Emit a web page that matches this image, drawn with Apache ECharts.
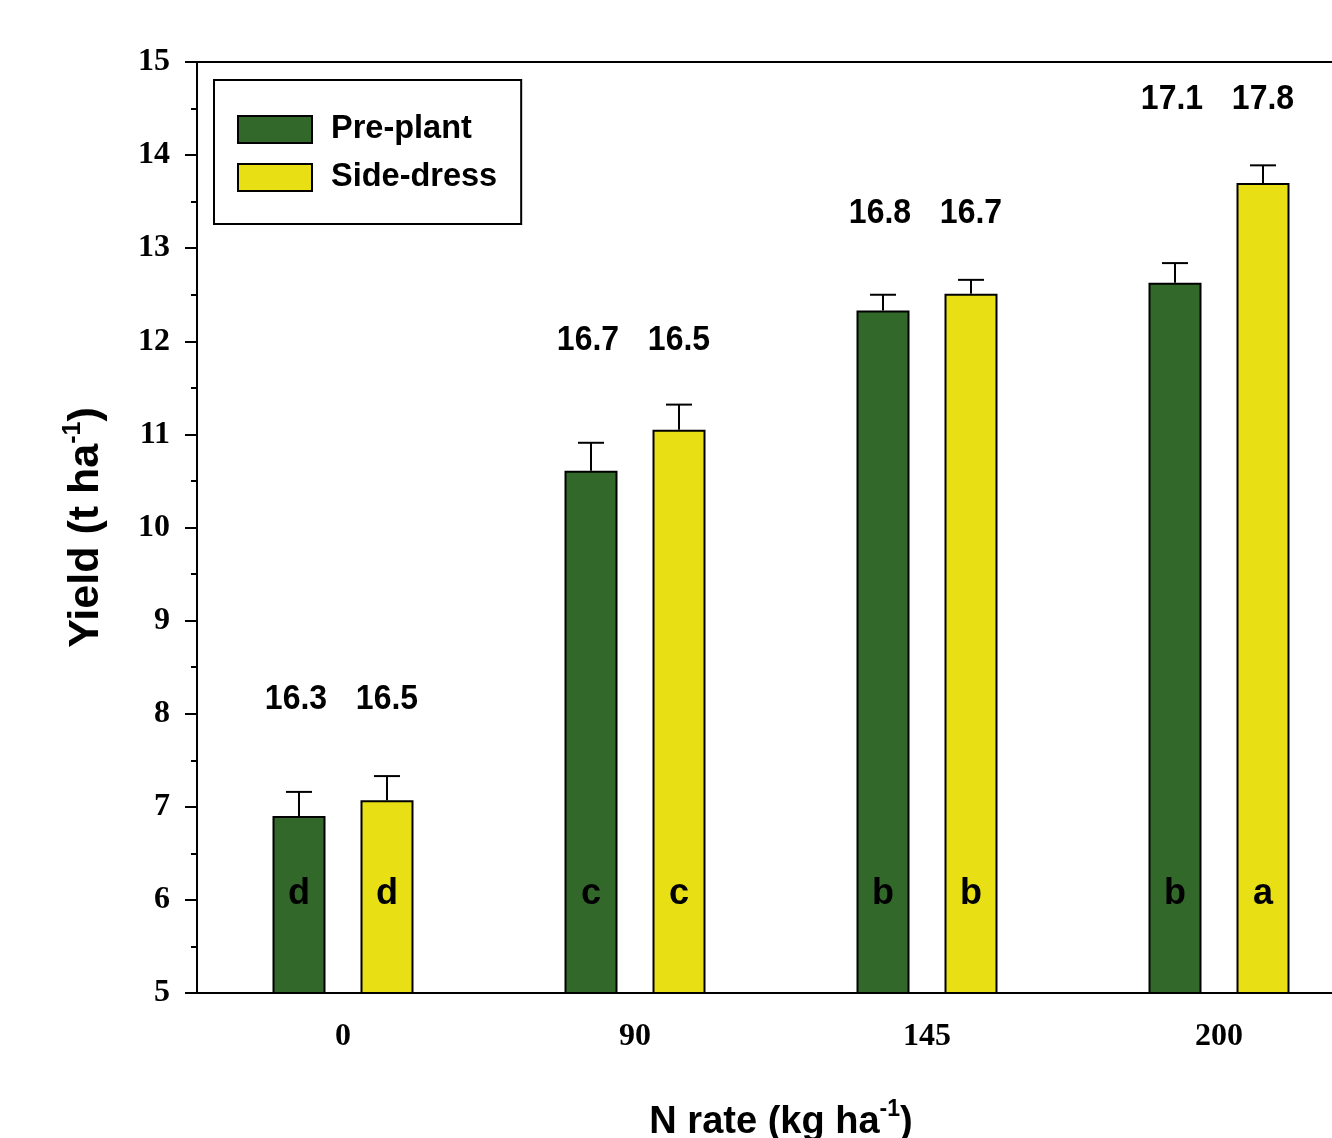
<!DOCTYPE html>
<html>
<head>
<meta charset="utf-8">
<script src="https://cdn.jsdelivr.net/npm/echarts@6/dist/echarts.min.js"></script>
<style>
html,body{margin:0;padding:0;background:#fff;overflow:hidden;}
#chart{width:1332px;height:1138px;}
</style>
</head>
<body>
<div id="chart"></div>
<script>
// ---- data ----
const categories = ['0', '90', '145', '200'];
const prePlant = [6.9, 10.61, 12.33, 12.63];
const sideDress = [7.07, 11.05, 12.51, 13.70];
const prePlantErr = [0.26, 0.30, 0.17, 0.21];
const sideDressErr = [0.26, 0.27, 0.15, 0.19];
const prePlantLetters = ['d', 'c', 'b', 'b'];
const sideDressLetters = ['d', 'c', 'b', 'a'];
const prePlantNotes = ['16.3', '16.7', '16.8', '17.1'];
const sideDressNotes = ['16.5', '16.5', '16.7', '17.8'];
const notesY = [8.15, 12.01, 13.38, 14.60];
const yTicks = { min: 5, max: 15, interval: 1 };

// ---- styles ----
const GREEN = '#32682a';
const YELLOW = '#e8df14';
const SANS = '"Liberation Sans", Arial, sans-serif';
const SERIF = '"Liberation Serif", "Times New Roman", serif';
const BAR_W = 53;
const BAR_GAP = 35;
const OFF = (BAR_W + BAR_GAP) / 2;

const chart = echarts.init(document.getElementById('chart'), null, { renderer: 'canvas' });

function errRender(sign) {
  return function (params, api) {
    const i = api.value(0);
    const m = api.value(1);
    const e = api.value(2);
    const p0 = api.coord([i, m]);
    const p1 = api.coord([i, m + e]);
    const x = p0[0] + sign * OFF;
    return {
      type: 'group',
      children: [
        { type: 'line', shape: { x1: x, y1: p0[1], x2: x, y2: p1[1] }, style: { stroke: '#000', lineWidth: 2 } },
        { type: 'line', shape: { x1: x - 13, y1: p1[1], x2: x + 13, y2: p1[1] }, style: { stroke: '#000', lineWidth: 2 } }
      ]
    };
  };
}

function noteRender(params, api) {
  const i = api.value(0);
  const y = api.value(1);
  const p = api.coord([i, y]);
  const mk = (txt, x) => ({
    type: 'text', x: x, y: p[1], scaleY: 1.1,
    style: { text: txt, font: 'bold 32px ' + SANS, fill: '#000', align: 'center', verticalAlign: 'middle' }
  });
  return {
    type: 'group',
    children: [ mk(prePlantNotes[i], p[0] - OFF - 3), mk(sideDressNotes[i], p[0] + OFF) ]
  };
}

const letterLabel = (letters) => ({
  show: true,
  position: 'insideBottom',
  distance: 82,
  formatter: (p) => letters[p.dataIndex],
  fontFamily: SANS,
  fontWeight: 'bold',
  fontSize: 36,
  color: '#000'
});

const option = {
  backgroundColor: '#fff',
  animation: false,
  grid: {
    left: 197, top: 62, width: 1168, height: 931,
    outerBoundsMode: 'none', containLabel: false,
    show: true, borderColor: '#000', borderWidth: 2, backgroundColor: 'transparent'
  },
  legend: {
    data: ['Pre-plant', 'Side-dress'],
    orient: 'vertical',
    left: 214,
    top: 80,
    padding: [33, 24, 30, 23],
    itemWidth: 74,
    itemHeight: 27,
    itemGap: 15,
    borderColor: '#000',
    borderWidth: 2,
    icon: 'rect',
    textStyle: { fontFamily: SANS, fontWeight: 'bold', fontSize: 32.5, color: '#000', padding: [0, 0, 0, 14] }
  },
  xAxis: {
    type: 'category',
    data: categories,
    boundaryGap: true,
    axisLine: { show: true, lineStyle: { color: '#000', width: 2 } },
    axisTick: { show: false },
    axisLabel: { fontFamily: SERIF, fontWeight: 'bold', fontSize: 32, color: '#000', margin: 28 },
    name: 'N rate (kg ha{sup|-1})',
    nameLocation: 'middle',
    nameGap: 105,
    nameTextStyle: {
      fontFamily: SANS, fontWeight: 'bold', fontSize: 38, lineHeight: 50, color: '#000',
      rich: { sup: { fontFamily: SANS, fontWeight: 'bold', fontSize: 23, lineHeight: 22, verticalAlign: 'top', color: '#000' } }
    }
  },
  yAxis: {
    type: 'value',
    min: yTicks.min,
    max: yTicks.max,
    interval: yTicks.interval,
    axisLine: { show: true, lineStyle: { color: '#000', width: 2 } },
    axisTick: { show: true, inside: false, length: 12, lineStyle: { color: '#000', width: 2 } },
    minorTick: { show: true, splitNumber: 2, length: 6, lineStyle: { color: '#000', width: 2 } },
    splitLine: { show: false },
    axisLabel: { fontFamily: SERIF, fontWeight: 'bold', fontSize: 32, color: '#000', margin: 27 },
    name: 'Yield (t ha{sup|-1})',
    nameLocation: 'middle',
    nameRotate: 90,
    nameGap: 86,
    nameTextStyle: {
      fontFamily: SANS, fontWeight: 'bold', fontSize: 43, lineHeight: 50, color: '#000',
      rich: { sup: { fontFamily: SANS, fontWeight: 'bold', fontSize: 25, lineHeight: 22, verticalAlign: 'top', color: '#000' } }
    }
  },
  series: [
    {
      name: 'Pre-plant', type: 'bar', data: prePlant, barWidth: BAR_W, barGap: (BAR_GAP / BAR_W * 100) + '%',
      itemStyle: { color: GREEN, borderColor: '#000', borderWidth: 2 },
      label: letterLabel(prePlantLetters)
    },
    {
      name: 'Side-dress', type: 'bar', data: sideDress, barWidth: BAR_W, barGap: (BAR_GAP / BAR_W * 100) + '%',
      itemStyle: { color: YELLOW, borderColor: '#000', borderWidth: 2 },
      label: letterLabel(sideDressLetters)
    },
    {
      name: 'errPre', type: 'custom', renderItem: errRender(-1), z: 5,
      data: prePlant.map((v, i) => [i, v, prePlantErr[i]])
    },
    {
      name: 'errSide', type: 'custom', renderItem: errRender(1), z: 5,
      data: sideDress.map((v, i) => [i, v, sideDressErr[i]])
    },
    {
      name: 'notes', type: 'custom', renderItem: noteRender, z: 6,
      data: notesY.map((v, i) => [i, v])
    }
  ]
};
chart.setOption(option);
</script>
</body>
</html>
